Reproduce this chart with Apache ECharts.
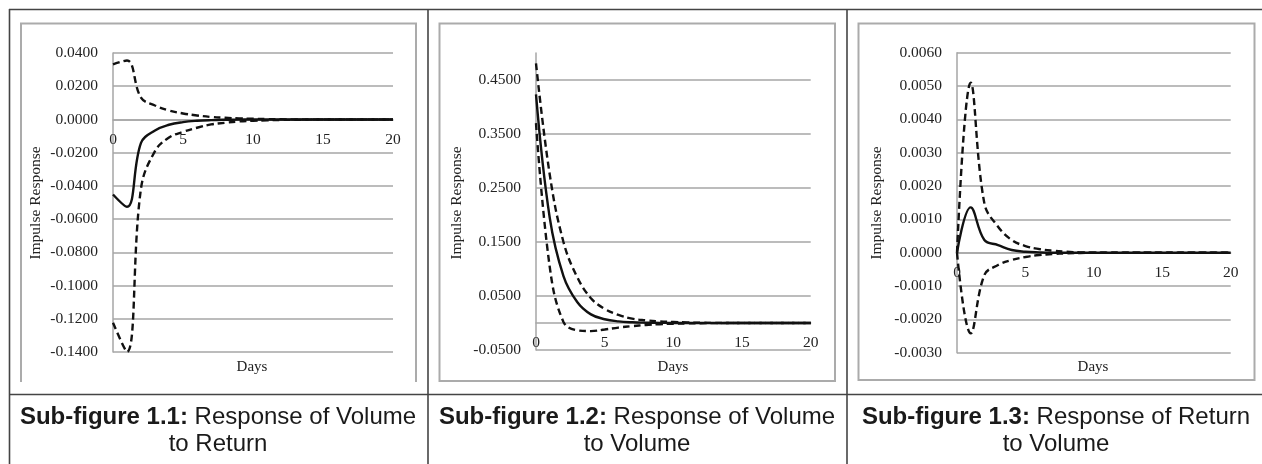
<!DOCTYPE html>
<html>
<head>
<meta charset="utf-8">
<script src="https://cdn.jsdelivr.net/npm/echarts@6/dist/echarts.min.js"></script>
<style>
html,body{margin:0;padding:0;background:#fff;}
#chart{width:1262px;height:464px;}
</style>
</head>
<body>
<div id="chart"></div>
<script>
// ---- data ----
const days = [0,1,2,3,4,5,6,7,8,9,10,11,12,13,14,15,16,17,18,19,20];

// Sub-figure 1.1: Response of Volume to Return
const p1_irf   = [-0.0452,-0.0526,-0.0141,-0.0066,-0.0032,-0.0016,-0.0008,-0.0004,-0.0002,-0.0001,0,0,0,0,0,0,0,0,0,0,0];
const p1_upper = [0.0331,0.0355,0.0131,0.0084,0.0054,0.0036,0.0024,0.0015,0.0010,0.0006,0.0004,0.0002,0.0001,0,0,0,0,0,0,0,0];
const p1_lower = [-0.1224,-0.1399,-0.0415,-0.0191,-0.0109,-0.0075,-0.0050,-0.0030,-0.0020,-0.0012,-0.0008,-0.0005,-0.0003,-0.0002,-0.0001,0,0,0,0,0,0];

// Sub-figure 1.2: Response of Volume to Volume
const p2_irf   = [0.4235,0.195,0.087,0.039,0.016,0.007,0.003,0.0013,0.0006,0.0003,0.0001,0,0,0,0,0,0,0,0,0,0];
const p2_upper = [0.481,0.275,0.150,0.085,0.046,0.026,0.015,0.008,0.005,0.003,0.002,0.001,0.0005,0.0002,0.0001,0,0,0,0,0,0];
const p2_lower = [0.370,0.104,0.002,-0.0135,-0.0150,-0.0120,-0.0085,-0.0058,-0.0037,-0.0022,-0.0013,-0.0008,-0.0004,-0.0002,-0.0001,0,0,0,0,0,0];

// Sub-figure 1.3: Response of Return to Volume
const p3_irf   = [0,0.00136,0.00038,0.00023,0.00008,0.00003,0.00001,0,0,0,0,0,0,0,0,0,0,0,0,0,0];
const p3_upper = [0,0.0051,0.00148,0.00078,0.00038,0.0002,0.00011,0.00006,0.00003,0.00001,0,0,0,0,0,0,0,0,0,0,0];
const p3_lower = [0,-0.00242,-0.00067,-0.00037,-0.00022,-0.00013,-0.00007,-0.00004,-0.00002,-0.00001,0,0,0,0,0,0,0,0,0,0,0];

const yRanges = [
  {min:-0.14, max:0.04, interval:0.02},
  {min:-0.05, max:0.50, interval:0.1},
  {min:-0.003, max:0.006, interval:0.001}
];
const xTicks = {min:0, max:20, interval:5};
const captionsBold = ['Sub-figure 1.1:', 'Sub-figure 1.2:', 'Sub-figure 1.3:'];
const captionsLine1 = [' Response of Volume', ' Response of Volume', ' Response of Return'];
const captionsLine2 = ['to Return', 'to Volume', 'to Volume'];
const xName = 'Days';
const yName = 'Impulse Response';

// ---- layout ----
const grids = [
  {left:113, top:53, width:280, height:299},
  {left:536, top:53, width:274.7, height:297},
  {left:957, top:52.7, width:273.7, height:300}
];
const serif = '"Liberation Serif","Times New Roman",serif';
const sans = '"Liberation Sans",Arial,sans-serif';
const gridGray = '#a6a6a6';

// horizontal axis crosses the vertical axis at value 0 (as in Excel)
const xAxes = grids.map((g,i)=>{
  const r = yRanges[i];
  const zeroFromBottom = (0 - r.min)/(r.max - r.min)*g.height;
  return {
    type:'value', gridIndex:i, min:xTicks.min, max:xTicks.max, interval:xTicks.interval,
    position:'bottom', offset:-zeroFromBottom,
    axisLine:{show:true, onZero:false, lineStyle:{color:gridGray, width:1.5}},
    axisTick:{show:false},
    splitLine:{show:false},
    axisLabel:{fontFamily:serif, fontSize:15.5, color:'#222', margin:12}
  };
});
const yAxes = grids.map((g,i)=>({
  type:'value', gridIndex:i, min:yRanges[i].min, max:yRanges[i].max, interval:yRanges[i].interval,
  axisLine:{show:true, onZero:false, lineStyle:{color:gridGray, width:1.5}},
  axisTick:{show:false},
  splitLine:{show:true, showMaxLine: i!==1, lineStyle:{color:gridGray, width:1.5}},
  axisLabel:{fontFamily:serif, fontSize:15.5, color:'#222', margin:15, showMaxLabel: i!==1,
    formatter:(v)=> (Math.abs(v)<1e-12?0:v).toFixed(4)}
}));

function mk(arr, idx, dashed){
  return {
    type:'line', xAxisIndex:idx, yAxisIndex:idx, smooth:0.4, symbol:'none',
    data: days.map((d,k)=>[d, arr[k]]),
    lineStyle:{color:'#111', width:2.4, type: dashed?[7,4]:'solid'},
    z: dashed?3:4, silent:true
  };
}
const series = [
  mk(p1_upper,0,true), mk(p1_lower,0,true), mk(p1_irf,0,false),
  mk(p2_upper,1,true), mk(p2_lower,1,true), mk(p2_irf,1,false),
  mk(p3_upper,2,true), mk(p3_lower,2,true), mk(p3_irf,2,false)
];

const tableColor = '#444';
const graphics = [];
function line(x1,y1,x2,y2,color,w){
  graphics.push({type:'line', shape:{x1,y1,x2,y2}, style:{stroke:color, lineWidth:w}, silent:true});
}
line(9,9.5,1262,9.5,tableColor,1.6);
line(9,394.5,1262,394.5,tableColor,1.6);
line(9.5,9,9.5,464,tableColor,1.6);
line(428,9,428,464,tableColor,1.6);
line(847,9,847,464,tableColor,1.6);
// chart frames
const frameColor = '#ababab';
graphics.push({type:'polyline', shape:{points:[[21,382],[21,23.5],[416,23.5],[416,382]]}, style:{stroke:frameColor, lineWidth:2, fill:null}, silent:true});
graphics.push({type:'rect', shape:{x:439.5,y:23.5,width:395.5,height:357.5}, style:{stroke:frameColor, lineWidth:2, fill:null}, silent:true});
graphics.push({type:'rect', shape:{x:858.5,y:23.5,width:396,height:356.5}, style:{stroke:frameColor, lineWidth:2, fill:null}, silent:true});

// axis titles
const daysX = [252, 673, 1093];
const yNameX = [36, 457, 877];
for (let i=0;i<3;i++){
  graphics.push({type:'text', x:daysX[i], y:367, style:{text:xName, font:'15px '+serif, fill:'#222', textAlign:'center', textVerticalAlign:'middle'}, silent:true});
  graphics.push({type:'text', x:yNameX[i], y:203, rotation:Math.PI/2, style:{text:yName, font:'15.5px '+serif, fill:'#222', textAlign:'center', textVerticalAlign:'middle'}, silent:true});
}
// captions
const capX = [218, 637, 1056];
for (let i=0;i<3;i++){
  graphics.push({type:'text', x:capX[i], y:417, style:{
    text:'{b|'+captionsBold[i]+'}{n|'+captionsLine1[i]+'}',
    rich:{ b:{font:'bold 24px '+sans, fill:'#1a1a1a'}, n:{font:'24px '+sans, fill:'#1a1a1a'} },
    textAlign:'center', textVerticalAlign:'middle'}, silent:true});
  graphics.push({type:'text', x:capX[i], y:444, style:{text:captionsLine2[i], font:'24px '+sans, fill:'#1a1a1a', textAlign:'center', textVerticalAlign:'middle'}, silent:true});
}

const chart = echarts.init(document.getElementById('chart'), null, {renderer:'canvas'});
chart.setOption({
  animation:false,
  backgroundColor:'#fff',
  grid: grids.map(g=>Object.assign({containLabel:false}, g)),
  xAxis:xAxes, yAxis:yAxes, series, graphic:graphics
});
</script>
</body>
</html>
